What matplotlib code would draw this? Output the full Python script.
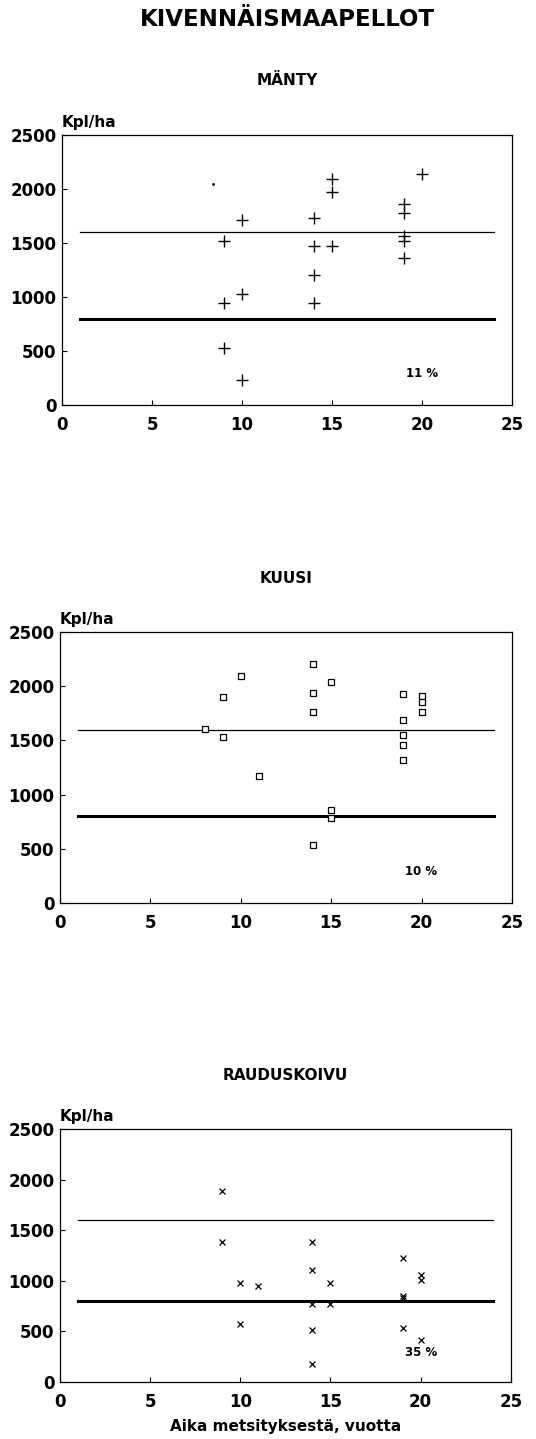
"""Kivennäismaapellot: taimimäärät ajan funktiona (mänty, kuusi, rauduskoivu)."""

import matplotlib

matplotlib.use("Agg")
import matplotlib.pyplot as plt

# Mänty (+)
manty_x = [9, 9, 9, 10, 10, 10, 14, 14, 14, 14, 15, 15, 15, 19, 19, 19, 19, 19, 20]
manty_y = [1520, 945, 525, 1715, 1025, 232, 1730, 1470, 1205, 940, 2090, 1970, 1475,
           1860, 1775, 1565, 1520, 1360, 2140]
manty_dot = (8.4, 2045)

# Kuusi (neliöt)
kuusi_x = [8, 9, 9, 10, 11, 14, 14, 14, 14, 15, 15, 15, 19, 19, 19, 19, 19, 20, 20, 20]
kuusi_y = [1605, 1528, 1903, 2097, 1172, 2208, 1937, 1762, 535, 2036, 861, 784,
           1928, 1691, 1550, 1458, 1319, 1906, 1854, 1759]

# Rauduskoivu (x)
koivu_x = [9, 9, 10, 10, 11, 14, 14, 14, 14, 14, 15, 15, 19, 19, 19, 19, 20, 20, 20]
koivu_y = [1883, 1385, 980, 571, 950, 1385, 1105, 768, 511, 181, 980, 768,
           1230, 848, 828, 538, 1055, 1006, 419]

# vaakaviivat: 1600 ja 800 kpl/ha
ref_x = [1, 24]
ref_upper = 1600
ref_lower = 800

titles = ["MÄNTY", "KUUSI", "RAUDUSKOIVU"]
percents = ["11 %", "10 %", "35 %"]

FONT = "DejaVu Sans"
PX = 0.72  # points per pixel at 100 dpi


def draw_panel(ax, title, pct):
    ax.plot(ref_x, [ref_upper, ref_upper], color="black", lw=0.9)
    ax.plot(ref_x, [ref_lower, ref_lower], color="black", lw=2.2)
    ax.set_xlim(0, 25)
    ax.set_ylim(0, 2500)
    ax.set_xticks([0, 5, 10, 15, 20, 25])
    ax.set_yticks([0, 500, 1000, 1500, 2000, 2500])
    ax.tick_params(direction="in", length=3.5, width=0.8, labelsize=12,
                   pad=4)
    ax.tick_params(axis="x", pad=8)
    for lab in ax.get_xticklabels() + ax.get_yticklabels():
        lab.set_fontweight("bold")
        lab.set_family(FONT)
    for sp in ax.spines.values():
        sp.set_linewidth(0.9)
    ax.annotate("Kpl/ha", xy=(0, 1), xycoords="axes fraction",
                xytext=(0, 8 * PX), textcoords="offset points",
                fontsize=11, fontweight="bold", family=FONT,
                va="baseline", ha="left")
    ax.annotate(title, xy=(0.5, 1), xycoords="axes fraction",
                xytext=(0, 54 * PX), textcoords="offset points",
                fontsize=11, fontweight="bold", family=FONT,
                ha="center", va="center")
    ax.text(20, 290, pct, fontsize=8.5, fontweight="bold", family=FONT,
            ha="center", va="center")


def main():
    fig = plt.figure(figsize=(5.36, 14.39), dpi=100)

    ax1 = fig.add_axes([0.1157, 0.7186, 0.8396, 0.1876])
    ax2 = fig.add_axes([0.1120, 0.3725, 0.8430, 0.1883])
    ax3 = fig.add_axes([0.1120, 0.0396, 0.8410, 0.1758])

    draw_panel(ax1, titles[0], percents[0])
    ax1.plot(manty_x, manty_y, linestyle="none", marker="+", color="black",
             markersize=8, markeredgewidth=1.0)
    ax1.plot([manty_dot[0]], [manty_dot[1]], linestyle="none", marker=".",
             color="black", markersize=2)

    draw_panel(ax2, titles[1], percents[1])
    ax2.plot(kuusi_x, kuusi_y, linestyle="none", marker="s",
             markerfacecolor="white", markeredgecolor="black", markersize=5,
             markeredgewidth=0.9)

    draw_panel(ax3, titles[2], percents[2])
    ax3.plot(koivu_x, koivu_y, linestyle="none", marker="x", color="black",
             markersize=4.5, markeredgewidth=0.9)
    ax3.set_xlabel("Aika metsityksestä, vuotta", fontsize=11,
                   fontweight="bold", family=FONT, labelpad=6)

    fig.text(0.537, 1 - 20 / 1439, "KIVENNÄISMAAPELLOT", fontsize=16.5,
             fontweight="bold", family=FONT, ha="center", va="center")

    fig.savefig("out.png", dpi=100)


if __name__ == "__main__":
    main()
